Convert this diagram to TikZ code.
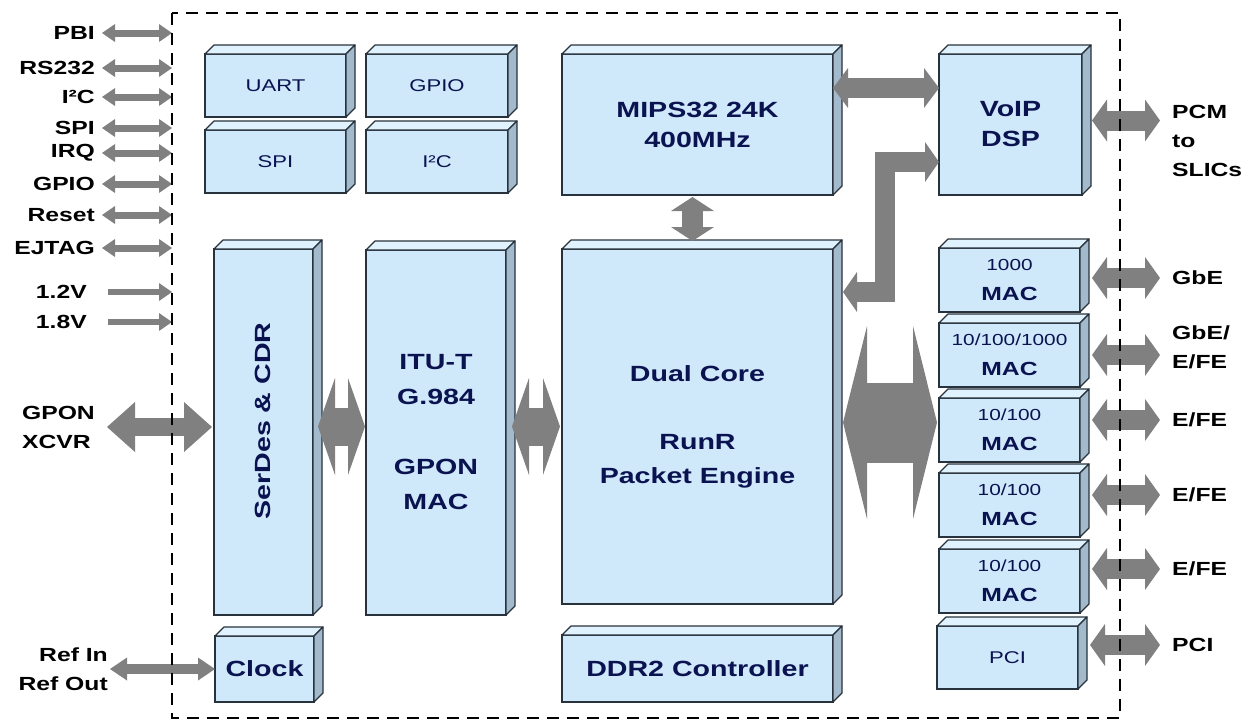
\documentclass[tikz,border=0pt]{standalone}
\usepackage{fontspec}
\setmainfont{Liberation Sans}[FakeStretch=1.3]
\usetikzlibrary{arrows.meta}
\usetikzlibrary{calc}
\definecolor{frontc}{RGB}{207,233,250}
\definecolor{topc}{RGB}{224,242,253}
\definecolor{sidec}{RGB}{163,186,205}
\definecolor{edgec}{RGB}{40,50,60}
\definecolor{navy}{RGB}{10,18,80}
\definecolor{arrowc}{RGB}{128,128,128}

\begin{document}
\begin{tikzpicture}[x=1pt, y=-1pt,
	blk/.style={draw=edgec, fill=frontc, line width=1.2pt, inner sep=0pt, outer sep=0pt, anchor=north west, text=navy, align=center, font=\bfseries\fontsize{22}{30}\selectfont},
	smallblk/.style={blk, minimum height=63pt, font=\fontsize{17}{20}\selectfont},
	macblk/.style={blk, minimum width=141pt, minimum height=64pt, font=\bfseries\fontsize{19}{30}\selectfont},
	face/.style={draw=edgec, line width=1.2pt, line join=round},
	lbl/.style={inner sep=0pt, align=left, font=\bfseries\fontsize{19}{29}\selectfont},
	fat/.style n args={3}{draw=arrowc, line width=#1, arrows={Triangle[width=#2,length=#3,line width=0pt]-Triangle[width=#2,length=#3,line width=0pt]}},
	power/.style={draw=arrowc, line width=6pt, arrows={-Triangle[width=18pt,length=13pt,line width=0pt]}}]
	\useasboundingbox (0,0) rectangle (1260,724);
	\coordinate (fw) at (172,0);
	
	% blocks
	\node[smallblk, minimum width=141pt] (uart) at (205,54) {UART};
	\node[smallblk, minimum width=142pt] (gpio) at (366,54) {GPIO};
	\node[smallblk, minimum width=141pt] (spi) at (205,130) {SPI};
	\node[smallblk, minimum width=142pt] (iic) at (366,130) {I²C};
	\node[blk, minimum width=271pt, minimum height=141pt] (mips) at (562,54) {MIPS32 24K\\400MHz};
	\node[blk, minimum width=143pt, minimum height=141pt] (voip) at (939,54) {VoIP\\DSP};
	\node[blk, minimum width=99pt, minimum height=366pt] (serdes) at (214,249) {};
	\node[blk, minimum width=140pt, minimum height=365pt, font=\bfseries\fontsize{22}{35}\selectfont] (itu) at (366,250) {ITU-T\\G.984\\[35pt]GPON\\MAC};
	\node[blk, minimum width=271pt, minimum height=355pt, font=\bfseries\fontsize{22}{34}\selectfont] (pe) at (562,249) {Dual Core\\[34pt]RunR\\Packet Engine};
	\node[blk, minimum width=99pt, minimum height=66pt] (clock) at (215,636) {Clock};
	\node[blk, minimum width=271pt, minimum height=67pt] (ddr) at (562,635) {DDR2 Controller};
	\node[macblk] (mac1) at (939,248) {{\mdseries\fontsize{16}{30}\selectfont 1000}\\MAC};
	\node[macblk] (mac2) at (939,323) {{\mdseries\fontsize{16}{30}\selectfont 10/100/1000}\\MAC};
	\node[macblk] (mac3) at (939,398) {{\mdseries\fontsize{16}{30}\selectfont 10/100}\\MAC};
	\node[macblk] (mac4) at (939,473) {{\mdseries\fontsize{16}{30}\selectfont 10/100}\\MAC};
	\node[macblk] (mac5) at (939,549) {{\mdseries\fontsize{16}{30}\selectfont 10/100}\\MAC};
	\node[smallblk, minimum width=141pt] (pci) at (937,626) {PCI};
	
	% depth faces
	\foreach \b in {uart,gpio,spi,iic,mips,voip,serdes,itu,pe,clock,ddr,mac1,mac2,mac3,mac4,mac5,pci}{
		\draw[face, fill=topc] (\b.north west) -- ++(9pt,9pt) -- ([shift={(9pt,9pt)}]\b.north east) -- (\b.north east) -- cycle;
		\draw[face, fill=sidec] (\b.north east) -- ([shift={(9pt,9pt)}]\b.north east) -- ([shift={(9pt,9pt)}]\b.south east) -- (\b.south east) -- cycle;
	}
	\node[navy, rotate=90, font=\bfseries\fontsize{22}{30}\selectfont] (serdestxt) at (263,421) {SerDes \& CDR};
	
	% left side signals
	\node[lbl, anchor=east] (pbi) at (95,33) {PBI};
	\node[lbl, anchor=east] (rs) at (95,68) {RS232};
	\node[lbl, anchor=east] (iicl) at (95,97) {I²C};
	\node[lbl, anchor=east] (spil) at (95,128) {SPI};
	\node[lbl, anchor=east] (irq) at (95,153) {IRQ};
	\node[lbl, anchor=east] (gpiol) at (95,184) {GPIO};
	\node[lbl, anchor=east] (reset) at (95,215) {Reset};
	\node[lbl, anchor=east] (ejtag) at (95,248) {EJTAG};
	\foreach \n in {pbi,rs,iicl,spil,irq,gpiol,reset,ejtag}
		\draw[fat={7pt}{18pt}{13pt}] ([xshift=7pt]\n.east) -- (fw |- \n.east);
	\node[lbl, anchor=east] (vone) at (87,292) {1.2V};
	\node[lbl, anchor=east] (vtwo) at (87,322) {1.8V};
	\draw[power] ([xshift=21pt]vone.east) -- (fw |- vone.east);
	\draw[power] ([xshift=21pt]vtwo.east) -- (fw |- vtwo.east);
	
	\node[lbl, anchor=east, align=left] (xcvr) at (95,427) {GPON\\XCVR};
	\draw[fat={18pt}{50pt}{28pt}, shorten <=12pt, shorten >=2pt] (xcvr.east) -- (serdes.west |- xcvr.east);
	\node[lbl, anchor=east, align=right] (ref) at (108,669) {Ref In\\Ref Out};
	\draw[fat={10pt}{23pt}{17pt}, shorten <=2pt] (ref.east) -- (clock.west);
	
	% inner buses
	\draw[fat={38pt}{97pt}{17pt}, shorten <=5pt, shorten >=1pt] (serdes.east |- pe.center) -- (itu.west |- pe.center);
	\draw[fat={38pt}{97pt}{17pt}, shorten <=6pt, shorten >=2pt] (itu.east |- pe.center) -- (pe.west);
	\draw[fat={80pt}{193pt}{24pt}, shorten <=10pt, shorten >=2pt] ([yshift=4pt]pe.east) -- ([yshift=4pt]pe.east -| mac3.west);
	\draw[fat={21pt}{43pt}{14pt}, shorten <=2pt, shorten >=8pt] ([xshift=-5pt]mips.south) -- ([xshift=-5pt]pe.north);
	\draw[fat={20pt}{40pt}{15pt}] ([yshift=-34pt]mips.north east) -- ([yshift=-34pt]voip.north west);
	\draw[fat={20pt}{40pt}{14pt}, line join=miter] ([yshift=-108pt]voip.north west) -| (885,292) -- ([xshift=10pt,yshift=-43pt]pe.north east);
	
	% right side ports
	\node[lbl, anchor=west] (pcm) at (1172,141) {PCM\\to\\SLICs};
	\node[lbl, anchor=west] (gbe) at (1172,278) {GbE};
	\node[lbl, anchor=west] (gbefe) at (1172,347) {GbE/\\E/FE};
	\node[lbl, anchor=west] (efea) at (1172,420) {E/FE};
	\node[lbl, anchor=west] (efeb) at (1172,495) {E/FE};
	\node[lbl, anchor=west] (efec) at (1172,569) {E/FE};
	\node[lbl, anchor=west] (pcil) at (1172,645) {PCI};
	\draw[fat={20pt}{42pt}{15pt}, shorten <=10pt, shorten >=12pt] ([yshift=4pt]voip.east) -- ([yshift=4pt]voip.east -| pcm.west);
	\draw[fat={20pt}{42pt}{15pt}, shorten <=12pt, shorten >=12pt] (mac2.east) -- (mac2.east -| gbefe.west);
	\foreach \m/\p in {mac1/gbe,mac3/efea,mac4/efeb,mac5/efec,pci/pcil}
		\draw[fat={20pt}{42pt}{15pt}, shorten <=12pt, shorten >=12pt] (\m.east |- \p.west) -- (\p.west);
	
	% chip outline
	\draw[line width=2.2pt, dash pattern=on 12pt off 8pt] (172,13) rectangle (1120,718);
\end{tikzpicture}
\end{document}
